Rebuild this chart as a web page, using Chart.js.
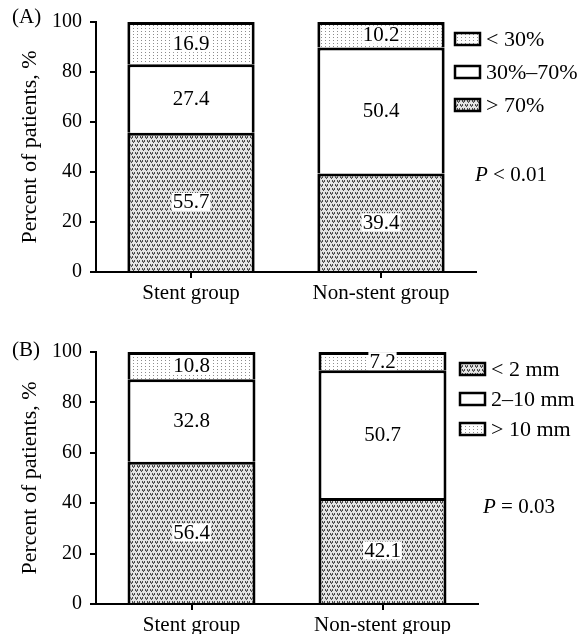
<!DOCTYPE html>
<html>
<head>
<meta charset="utf-8">
<script src="https://cdn.jsdelivr.net/npm/chart.js@4.4.0/dist/chart.umd.min.js"></script>
<style>
  body { margin: 0; background: #fff; }
  .panel { width: 588px; height: 317px; }
  canvas { display: block; }
</style>
</head>
<body>
<div class="panel"><canvas id="chartA" width="588" height="317"></canvas></div>
<div class="panel"><canvas id="chartB" width="588" height="317"></canvas></div>
<script>
var groups = ['Stent group', 'Non-stent group'];

// panel A - stenosis degree
var seriesNamesA = ['> 70%', '30%\u201370%', '< 30%'];
var over70 = [55.7, 39.4];
var from30to70 = [27.4, 50.4];
var under30 = [16.9, 10.2];

// panel B - residual length
var seriesNamesB = ['< 2 mm', '2\u201310 mm', '> 10 mm'];
var under2mm = [56.4, 42.1];
var from2to10mm = [32.8, 50.7];
var over10mm = [10.8, 7.2];

var pValueA = 'P < 0.01';
var pValueB = 'P = 0.03';

var serif = "'Liberation Serif', 'Times New Roman', serif";

function makePattern(kind) {
    var c = document.createElement('canvas');
    var ctx = c.getContext('2d');
    if (kind === 'dense') {
        c.width = 10; c.height = 8;
        ctx.fillStyle = '#e4e4e4';
        ctx.fillRect(0, 0, 10, 8);
        // little heart shaped marks, alternate rows shifted
        [[0, 0], [5, 0], [2, 4], [7, 4]].forEach(function(p) {
            ctx.fillStyle = '#4a4a4a';
            ctx.fillRect(p[0], p[1], 1, 2);
            ctx.fillRect(p[0] + 2, p[1], 1, 2);
            ctx.fillRect(p[0] + 1, p[1] + 2, 1, 1);
            ctx.fillStyle = '#8a8a8a';
            ctx.fillRect(p[0] + 1, p[1] + 1, 1, 1);
        });
    } else {
        c.width = 4; c.height = 3;
        ctx.fillStyle = '#fff';
        ctx.fillRect(0, 0, 4, 3);
        ctx.fillStyle = '#8c8c8c';
        ctx.fillRect(1, 1, 1, 1);
    }
    return ctx.createPattern(c, 'repeat');
}

var densePat = makePattern('dense');
var dotPat = makePattern('dots');

function makeDataset(label, values, fill) {
    return {
        label: label,
        data: values,
        backgroundColor: fill,
        borderColor: '#000',
        borderWidth: { left: 3, right: 3, top: 3, bottom: 0 },
        borderSkipped: false,
        inflateAmount: 0,
        barPercentage: 0.67,
        categoryPercentage: 1.0
    };
}

// draws value labels, legend, p value and panel letter
var panelDecor = {
    id: 'panelDecor',
    afterDatasetsDraw: function(chart, args, opts) {
        var ctx = chart.ctx;
        ctx.save();
        ctx.font = '21px ' + serif;
        ctx.textAlign = 'center';
        ctx.textBaseline = 'middle';
        chart.data.datasets.forEach(function(ds, i) {
            chart.getDatasetMeta(i).data.forEach(function(bar, j) {
                var txt = ds.data[j].toFixed(1);
                var cy = (bar.y + bar.base) / 2;
                var w = ctx.measureText(txt).width;
                ctx.fillStyle = '#fff';
                ctx.fillRect(bar.x - w / 2 - 1, cy - 9, w + 2, 18);
                ctx.fillStyle = '#000';
                ctx.fillText(txt, bar.x, cy + 1);
            });
        });

        // legend
        ctx.textAlign = 'left';
        ctx.font = '22px ' + serif;
        opts.legendOrder.forEach(function(idx, k) {
            var ds = chart.data.datasets[idx];
            var y = opts.legendY + k * opts.legendGap;
            ctx.fillStyle = ds.backgroundColor;
            ctx.fillRect(opts.legendX, y - 6, 25, 12);
            ctx.strokeStyle = '#000';
            ctx.lineWidth = 2.5;
            ctx.strokeRect(opts.legendX, y - 6, 25, 12);
            ctx.fillStyle = '#000';
            ctx.fillText(ds.label, opts.legendX + 31, y + 1);
        });

        // p value, italic P
        ctx.font = 'italic 21px ' + serif;
        ctx.fillText('P', opts.pX, opts.pY);
        var pw = ctx.measureText('P ').width;
        ctx.font = '21px ' + serif;
        ctx.fillText(opts.pText.slice(2), opts.pX + pw, opts.pY);

        // panel letter
        ctx.fillText(opts.letter, 12, opts.letterY);
        ctx.restore();
    }
};

function buildChart(canvasId, datasets, decor, padTop, xHeight, padRight) {
    var ctx = document.getElementById(canvasId).getContext('2d');
    return new Chart(ctx, {
        type: 'bar',
        data: { labels: groups, datasets: datasets },
        plugins: [panelDecor],
        options: {
            responsive: false,
            animation: false,
            layout: { padding: { top: padTop, right: padRight, left: 0, bottom: 0 } },
            plugins: {
                legend: { display: false },
                tooltip: { enabled: false },
                panelDecor: decor
            },
            scales: {
                x: {
                    stacked: true,
                    ticks: { color: '#000', font: { family: serif, size: 21 }, padding: 3 },
                    grid: { display: true, offset: false, drawOnChartArea: false, tickLength: 6, color: '#000', lineWidth: 2 },
                    border: { display: true, color: '#000', width: 2 },
                    afterFit: function(s) { s.height = xHeight; }
                },
                y: {
                    stacked: true,
                    min: 0,
                    max: 100,
                    ticks: { stepSize: 20, color: '#000', font: { family: serif, size: 20 }, padding: 8 },
                    grid: { display: true, drawOnChartArea: false, tickLength: 6, color: '#000', lineWidth: 2 },
                    border: { display: true, color: '#000', width: 2 },
                    title: {
                        display: true,
                        text: 'Percent of patients, %',
                        color: '#000',
                        font: { family: serif, size: 22 },
                        padding: { top: 17, bottom: 0 }
                    },
                    afterFit: function(s) { s.width = 96; }
                }
            }
        }
    });
}

buildChart('chartA', [
    makeDataset(seriesNamesA[0], over70, densePat),
    makeDataset(seriesNamesA[1], from30to70, '#fff'),
    makeDataset(seriesNamesA[2], under30, dotPat)
], {
    legendOrder: [2, 1, 0], legendX: 455, legendY: 39, legendGap: 33,
    pText: pValueA, pX: 475, pY: 175, letter: '(A)', letterY: 17
}, 22, 45, 112);

buildChart('chartB', [
    makeDataset(seriesNamesB[0], under2mm, densePat),
    makeDataset(seriesNamesB[1], from2to10mm, '#fff'),
    makeDataset(seriesNamesB[2], over10mm, dotPat)
], {
    legendOrder: [0, 1, 2], legendX: 460, legendY: 52, legendGap: 30,
    pText: pValueB, pX: 483, pY: 190, letter: '(B)', letterY: 33
}, 35, 30, 110);
</script>
</body>
</html>
